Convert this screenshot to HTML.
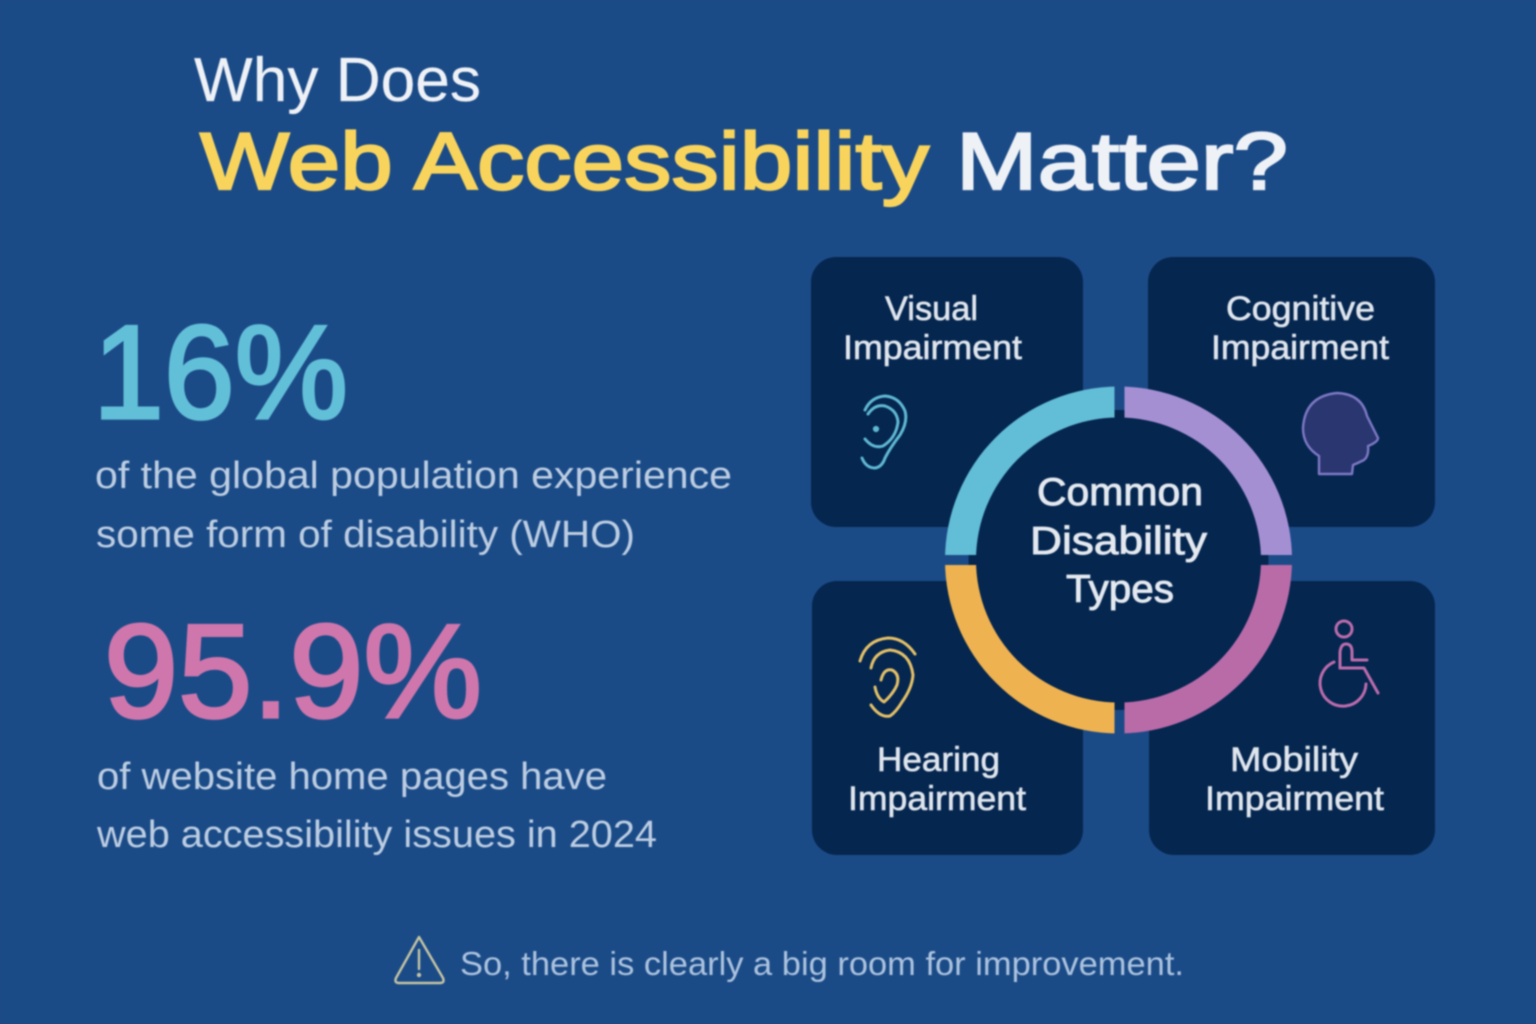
<!DOCTYPE html>
<html lang="en">
<head>
<meta charset="utf-8">
<title>Why Does Web Accessibility Matter?</title>
<style>
html,body{margin:0;padding:0;width:1536px;height:1024px;background:#1b4b87;overflow:hidden}
svg{display:block;filter:blur(.7px)}
text{font-family:"Liberation Sans",sans-serif}
.title{fill:#eef1f6;font-size:62px;stroke:#eef1f6;stroke-width:.2px}
.title-big{font-size:81px;stroke-width:2.2px}
.yellow{fill:#f9d45c;stroke:#f9d45c}
.stat{font-size:133px;stroke-width:3.2px}
.teal{fill:#62bfd8;stroke:#62bfd8}
.pink{fill:#cf76ac;stroke:#cf76ac}
.body{fill:#bccde2;font-size:38px}
.foot{fill:#abc2de;font-size:33px}
.label{fill:#dfe5ed;font-size:34px;stroke:#dfe5ed;stroke-width:.6px}
.center{fill:#e4e9f0;font-size:39px;stroke:#e4e9f0;stroke-width:.9px}
.card{fill:#05264f}
.ic{fill:none;stroke-width:3;stroke-linecap:round;stroke-linejoin:round}
</style>
</head>
<body>
<svg xmlns="http://www.w3.org/2000/svg" width="1536" height="1024" viewBox="0 0 1536 1024">
  <rect x="-10" y="-10" width="1556" height="1044" fill="#1b4b87"/>

  <text class="title" x="194" y="101" textLength="287" lengthAdjust="spacingAndGlyphs">Why Does</text>
  <text class="title title-big yellow" x="200" y="189" textLength="729" lengthAdjust="spacingAndGlyphs">Web Accessibility</text>
  <text class="title title-big" x="956" y="189" textLength="332" lengthAdjust="spacingAndGlyphs">Matter?</text>

  <text class="stat teal" x="93" y="418" textLength="255" lengthAdjust="spacingAndGlyphs">16%</text>
  <text class="body" x="95" y="488" textLength="637" lengthAdjust="spacingAndGlyphs">of the global population experience</text>
  <text class="body" x="96" y="547" textLength="539" lengthAdjust="spacingAndGlyphs">some form of disability (WHO)</text>

  <text class="stat pink" x="104" y="717" textLength="378" lengthAdjust="spacingAndGlyphs">95.9%</text>
  <text class="body" x="97" y="789" textLength="510" lengthAdjust="spacingAndGlyphs">of website home pages have</text>
  <text class="body" x="97" y="847" textLength="560" lengthAdjust="spacingAndGlyphs">web accessibility issues in 2024</text>

  <g>
    <rect class="card" x="811" y="257" width="272" height="270" rx="25"/>
    <text class="label" x="885" y="320" textLength="93" lengthAdjust="spacingAndGlyphs">Visual</text>
    <text class="label" x="843" y="359" textLength="179" lengthAdjust="spacingAndGlyphs">Impairment</text>
    <g class="ic" stroke="#5fb8d3">
      <path d="M862 458Q866 468 875 468Q882 467 885 458Q890 448 900 435Q908 422 905 411Q899 397 885 396Q871 397 865 410"/>
      <path d="M868 414Q875 404 885 406Q897 410 898 422Q896 438 883 446Q873 449 865 439"/>
      <circle cx="876" cy="429" r="1.6" fill="#5fb8d3"/>
    </g>
  </g>

  <g>
    <rect class="card" x="1148" y="257" width="287" height="270" rx="25"/>
    <text class="label" x="1226" y="320" textLength="149" lengthAdjust="spacingAndGlyphs">Cognitive</text>
    <text class="label" x="1211" y="359" textLength="178" lengthAdjust="spacingAndGlyphs">Impairment</text>
    <path d="M1319 474V456Q1303 446 1303 428Q1305 396 1337 393Q1362 394 1367 416L1378 438Q1378 442 1368 446Q1369 456 1364 460Q1358 463 1353 465L1352 474Z" fill="#2a3670" stroke="#7d78c4" stroke-width="2.4" stroke-linejoin="round"/>
  </g>

  <g>
    <rect class="card" x="812" y="581" width="271" height="274" rx="25"/>
    <text class="label" x="877" y="771" textLength="123" lengthAdjust="spacingAndGlyphs">Hearing</text>
    <text class="label" x="848" y="810" textLength="178" lengthAdjust="spacingAndGlyphs">Impairment</text>
    <g class="ic" stroke="#e3c068">
      <path d="M860 661Q866 640 888 638Q904 638 915 654"/>
      <path d="M871 668Q874 652 890 650Q910 652 913 675Q912 688 902 702Q896 712 890 716Q880 718 871 705"/>
      <path d="M881 680Q884 668 892 670Q900 674 897 685Q893 694 884 702Q877 698 875 687"/>
    </g>
  </g>

  <g>
    <rect class="card" x="1149" y="581" width="286" height="274" rx="25"/>
    <text class="label" x="1230" y="771" textLength="128" lengthAdjust="spacingAndGlyphs">Mobility</text>
    <text class="label" x="1205" y="810" textLength="179" lengthAdjust="spacingAndGlyphs">Impairment</text>
    <g class="ic" stroke="#bb6cab">
      <circle cx="1344" cy="629" r="8"/>
      <path d="M1340 668V652Q1341 644 1346 644Q1352 644 1352 652V660H1367"/>
      <path d="M1340 668H1364L1378 693"/>
      <path d="M1334 662A23 23 0 1 0 1366 684"/>
    </g>
  </g>

  <circle cx="1118.5" cy="560" r="150" fill="#05264f"/>
  <defs>
    <mask id="ring-gap-mask" maskUnits="userSpaceOnUse" x="900" y="340" width="440" height="440">
      <rect x="900" y="340" width="440" height="440" fill="#fff"/>
      <rect x="1114.5" y="340" width="10" height="440" fill="#000"/>
      <rect x="900" y="555" width="440" height="10" fill="#000"/>
    </mask>
  </defs>
  <g id="ring" mask="url(#ring-gap-mask)"></g>

  <text class="center" x="1037" y="505" textLength="166" lengthAdjust="spacingAndGlyphs">Common</text>
  <text class="center" x="1030" y="554" textLength="177" lengthAdjust="spacingAndGlyphs">Disability</text>
  <text class="center" x="1066" y="602" textLength="108" lengthAdjust="spacingAndGlyphs">Types</text>

  <g fill="none" stroke="#c4c4a4" stroke-width="2.4" stroke-linejoin="round" stroke-linecap="round">
    <path d="M419 937L396 978Q394 983 399 983H440Q445 983 443 978Z"/>
    <path d="M419 950V969"/>
    <circle cx="419" cy="975" r="1" fill="#c4c4a4"/>
  </g>
  <text class="foot" x="460" y="975" textLength="724" lengthAdjust="spacingAndGlyphs">So, there is clearly a big room for improvement.</text>
</svg>
<script>
const ringCategories = ['Cognitive', 'Mobility', 'Hearing', 'Visual'];
const ringValues = [25, 25, 25, 25];

function ringColor(category) {
  if (category === 'Cognitive') return '#a58fd3';
  if (category === 'Mobility') return '#b96ba8';
  if (category === 'Hearing') return '#eeb250';
  return '#62bdd6';
}
function ringAngle(cumulative, total) {
  return (cumulative / total) * 2 * Math.PI - Math.PI / 2;
}
function ringPoint(radius, angle) {
  return [1118.5 + radius * Math.cos(angle), 560 + radius * Math.sin(angle)];
}
const ringGroup = document.getElementById('ring');
const ringTotal = ringValues.reduce(function (a, b) { return a + b; }, 0);
let ringRunning = 0;
ringValues.forEach(function (value, i) {
  const a0 = ringAngle(ringRunning, ringTotal);
  ringRunning += value;
  const a1 = ringAngle(ringRunning, ringTotal);
  const outerR = 173.5;
  const innerR = 142.5;
  const large = a1 - a0 > Math.PI ? 1 : 0;
  const p0 = ringPoint(outerR, a0);
  const p1 = ringPoint(outerR, a1);
  const p2 = ringPoint(innerR, a1);
  const p3 = ringPoint(innerR, a0);
  const el = document.createElementNS('http://www.w3.org/2000/svg', 'path');
  el.setAttribute('d', 'M' + p0[0] + ' ' + p0[1] + 'A' + outerR + ' ' + outerR + ' 0 ' + large + ' 1 ' + p1[0] + ' ' + p1[1] + 'L' + p2[0] + ' ' + p2[1] + 'A' + innerR + ' ' + innerR + ' 0 ' + large + ' 0 ' + p3[0] + ' ' + p3[1] + 'Z');
  el.setAttribute('fill', ringColor(ringCategories[i]));
  
  
  ringGroup.appendChild(el);
});
</script>
</body>
</html>
